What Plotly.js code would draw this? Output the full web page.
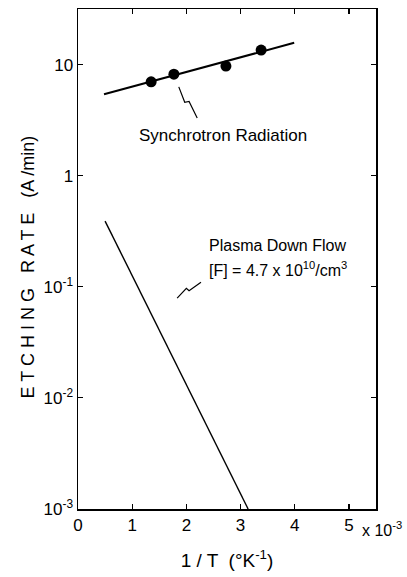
<!DOCTYPE html>
<html>
<head>
<meta charset="utf-8">
<script src="https://cdn.plot.ly/plotly-3.0.1.min.js"></script>
<style>
  html, body { margin: 0; padding: 0; background: #fff; }
  #chart { width: 407px; height: 577px; }
</style>
</head>
<body>
<div id="chart"></div>
<script>
// Synchrotron-radiation-excited etching: measured points and fitted line
const syncX = [1.35, 1.77, 2.73, 3.38];          // 1/T  (x10^-3 K^-1)
const syncRate = [7.0, 8.2, 9.7, 13.5];          // A/min
const syncFitX = [0.48, 3.99];
const syncFitRate = [5.4, 15.7];

// Plasma down-flow etching (Arrhenius line)
const plasmaX = [0.5, 3.14];
const plasmaRate = [0.39, 0.001];

// Axis ticks
const xTickVals = [0, 1, 2, 3, 4, 5];
const xTickText = ['0', '1', '2', '3', '4', '5'];
const yTickVals = [10, 1, 0.1, 0.01, 0.001];
const yTickText = ['10', '1', '10<sup>-1</sup>', '10<sup>-2</sup>', '10<sup>-3</sup>'];

// Leader lines from the labels to their curves
const syncLeaderX = [1.86, 1.97, 2.05, 2.20];
const syncLeaderY = [6.3, 4.57, 4.66, 3.3];
const plasmaLeaderX = [1.83, 2.0, 2.05, 2.27];
const plasmaLeaderY = [0.079, 0.097, 0.092, 0.11];

const FONT = 'Liberation Sans, Arial, sans-serif';

const traces = [
  {
    x: syncFitX, y: syncFitRate, mode: 'lines', type: 'scatter',
    line: { color: '#000', width: 2 }, hoverinfo: 'skip', showlegend: false
  },
  {
    x: syncX, y: syncRate, mode: 'markers', type: 'scatter',
    marker: { color: '#000', size: 11 }, showlegend: false
  },
  {
    x: plasmaX, y: plasmaRate, mode: 'lines', type: 'scatter',
    line: { color: '#000', width: 1.4 }, showlegend: false
  },
  {
    x: syncLeaderX, y: syncLeaderY, mode: 'lines', type: 'scatter',
    line: { color: '#000', width: 1.2 }, showlegend: false, hoverinfo: 'skip'
  },
  {
    x: plasmaLeaderX, y: plasmaLeaderY, mode: 'lines', type: 'scatter',
    line: { color: '#000', width: 1.2 }, showlegend: false, hoverinfo: 'skip'
  }
];

const axisCommon = {
  showline: true, linecolor: '#000', linewidth: 1.5, mirror: 'ticks',
  ticks: 'inside', ticklen: 5, tickwidth: 1.2, tickcolor: '#000',
  showgrid: false, zeroline: false,
  tickfont: { family: FONT, size: 17, color: '#000' }
};

const layout = {
  width: 407, height: 577,
  margin: { l: 78, r: 31, t: 9, b: 68 },
  paper_bgcolor: '#fff', plot_bgcolor: '#fff',
  showlegend: false,
  xaxis: Object.assign({}, axisCommon, {
    range: [0, 5.5],
    tickmode: 'array', tickvals: xTickVals, ticktext: xTickText,
    title: { text: '1 / T  (°K<sup>-1</sup>)', font: { family: FONT, size: 19, color: '#000' }, standoff: 20 }
  }),
  yaxis: Object.assign({}, axisCommon, {
    type: 'log', range: [-3, 1.5],
    tickmode: 'array', tickvals: yTickVals, ticktext: yTickText
  }),
  annotations: [
    {
      text: 'E T C H I N G   R A T E   (A /min)', xref: 'paper', yref: 'paper',
      x: -0.168, y: 0.485, textangle: -90, showarrow: false,
      xanchor: 'center', yanchor: 'middle',
      font: { family: FONT, size: 18, color: '#000' }
    },
    {
      text: 'x 10<sup>-3</sup>', xref: 'paper', yref: 'paper',
      x: 1.095, y: -0.015, showarrow: false, xanchor: 'right', yanchor: 'top',
      font: { family: FONT, size: 16, color: '#000' }
    },
    {
      text: 'Synchrotron Radiation', xref: 'x', yref: 'y',
      x: 2.67, y: Math.log10(2.3), showarrow: false,
      xanchor: 'center', yanchor: 'middle',
      font: { family: FONT, size: 17, color: '#000' }
    },
    {
      text: 'Plasma Down Flow', xref: 'x', yref: 'y',
      x: 2.38, y: Math.log10(0.236), showarrow: false,
      xanchor: 'left', yanchor: 'middle',
      font: { family: FONT, size: 16, color: '#000' }
    },
    {
      text: '[F] = 4.7 x 10<sup>10</sup>/cm<sup>3</sup>', xref: 'x', yref: 'y',
      x: 2.38, y: Math.log10(0.146), showarrow: false,
      xanchor: 'left', yanchor: 'middle',
      font: { family: FONT, size: 16, color: '#000' }
    }
  ]
};

Plotly.newPlot('chart', traces, layout, { displayModeBar: false, staticPlot: true });
</script>
</body>
</html>
